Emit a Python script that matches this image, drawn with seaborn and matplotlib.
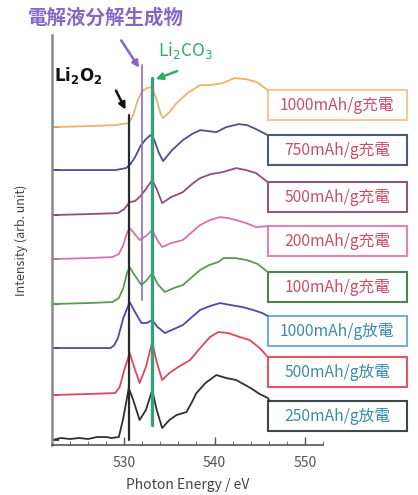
import numpy as np
import pandas as pd
import matplotlib.pyplot as plt
import seaborn as sns
from matplotlib.patches import Rectangle

sns.set_style("ticks")
plt.rcParams['font.family'] = ['Noto Sans CJK JP', 'DejaVu Sans']

# sample names (top to bottom) and their colours
samples = ["1000mAh/g充電", "750mAh/g充電", "500mAh/g充電", "200mAh/g充電",
           "100mAh/g充電", "1000mAh/g放電", "500mAh/g放電", "250mAh/g放電"]
line_colors = ["#eab46a", "#4f4f8f", "#8e4f80", "#d673ad",
               "#5b9a52", "#4a4aa8", "#e0475a", "#303030"]
box_colors = ["#f2c9a4", "#4d5a78", "#8a5a7c", "#e283b4",
              "#4f8152", "#79acd8", "#e25565", "#3e4848"]
text_colors = ["#c84e68", "#c84e68", "#c84e68", "#c84e68",
               "#c84e68", "#3c8ca8", "#3c8ca8", "#3c8ca8"]

# vertical offset of each spectrum (arb. unit)
offsets = [318, 275, 230, 186, 141, 97, 50, 5]

# spectra: photon energy (eV) and intensity above baseline
e_1000c = [522, 526, 529, 530.5, 531.0, 531.5, 532.0, 532.5, 533.0, 533.5, 534.0, 534.3,
           535.0, 535.8, 537.0, 538.4, 539.5, 540.9, 542.2, 543.5, 544.7, 545.9]
i_1000c = [0, 1, 2, 4, 12, 27, 36, 39, 40, 30, 14, 9,
           15, 24, 34, 42, 42, 44, 49, 48, 45, 37]
e_750c = [522, 529, 530.2, 530.7, 531.2, 531.8, 532.4, 532.9, 533.3, 533.8, 534.3,
          535.3, 536.5, 537.5, 538.4, 539.3, 540.2, 541.3, 542.7, 543.6, 544.6, 545.9]
i_750c = [0, 0, 2, 6, 13, 24, 31, 35, 31, 18, 9,
          20, 30, 36, 40, 39, 38, 43, 46, 45, 41, 35]
e_500c = [522, 526, 529.3, 530.0, 530.6, 531.2, 531.8, 532.4, 533.1, 533.6, 534.2,
          535.2, 536.5, 537.5, 538.4, 539.6, 540.9, 542.4, 543.5, 544.6, 545.9]
i_500c = [0, 1, 2, 6, 13, 14, 19, 26, 35, 26, 12,
          18, 23, 31, 37, 41, 43, 47, 45, 42, 33]
e_200c = [522, 526, 528.7, 529.4, 529.9, 530.3, 530.6, 531.0, 531.7, 532.4, 533.1, 533.6,
          534.2, 535.2, 536.5, 537.5, 538.4, 539.5, 540.6, 541.5, 542.4, 543.5, 544.6, 545.9]
i_200c = [0, 1, 2, 5, 14, 26, 31, 27, 19, 23, 29, 20,
          12, 16, 19, 27, 34, 39, 42, 41, 39, 36, 32, 33]
e_100c = [522, 526, 528.7, 529.4, 529.9, 530.3, 530.6, 531.0, 531.9, 532.5, 533.1, 533.7,
          534.5, 535.5, 536.5, 537.5, 538.4, 539.4, 540.4, 541.0, 542.3, 543.6, 544.8, 545.9]
i_100c = [0, 1, 2, 6, 16, 31, 37, 31, 19, 24, 31, 20,
          12, 16, 19, 27, 34, 39, 42, 46, 46, 44, 40, 32]
e_1000d = [522, 528.5, 528.9, 529.3, 529.9, 530.6, 531.2, 531.9, 532.5, 533.1, 533.7,
           534.5, 535.5, 536.5, 537.5, 538.4, 539.5, 540.6, 541.8, 543.1, 544.3, 545.3, 545.9]
i_1000d = [0, 0, 3, 10, 30, 46, 36, 25, 25, 28, 21,
           15, 19, 23, 31, 38, 42, 45, 43, 41, 38, 35, 32]
e_500d = [522, 526, 529.0, 529.5, 530.0, 530.6, 531.1, 531.7, 532.4, 533.1, 533.6, 534.2,
          535.0, 535.8, 537.3, 538.5, 539.5, 540.4, 541.5, 542.8, 543.9, 545.0, 545.9]
i_500d = [0, 1, 2, 8, 25, 42, 28, 12, 28, 53, 33, 15,
          22, 27, 35, 48, 58, 63, 62, 58, 55, 47, 38]
e_250d = [522, 523, 524, 525, 526, 527, 528, 528.6, 529.4, 529.9, 530.5, 531.0, 531.7,
          532.4, 533.1, 533.6, 534.2, 535.0, 535.8, 536.9, 537.5, 538.0, 539.0, 540.2,
          541.3, 542.4, 544.0, 545.0, 545.9, 546.1]
i_250d = [0, 2, 1, 2, 1, 3, 3, 2, 3, 22, 52, 40, 20,
          30, 50, 30, 12, 20, 25, 28, 38, 47, 57, 65,
          62, 60, 52, 46, 42, 39]

energies = [e_1000c, e_750c, e_500c, e_200c, e_100c, e_1000d, e_500d, e_250d]
heights = [i_1000c, i_750c, i_500c, i_200c, i_100c, i_1000d, i_500d, i_250d]

rows = []
for name, off, ev, h in zip(samples, offsets, energies, heights):
    for x, y in zip(ev, h):
        rows.append({"energy": x, "intensity": off + y, "sample": name})
df = pd.DataFrame(rows)

fig = plt.figure(figsize=(4.18, 4.95), dpi=100)
ax = fig.add_axes([0.1244, 0.101, 0.648, 0.828])

sns.lineplot(data=df, x="energy", y="intensity", hue="sample", hue_order=samples,
             palette=dict(zip(samples, line_colors)), sort=False, estimator=None,
             linewidth=1.3, legend=False, ax=ax)

# reference lines
ax.plot([530.5, 530.5], [5, 330], color="#2a2a2a", lw=1.6)
ax.plot([532.0, 532.0], [145, 380], color="#8b6cc6", lw=1.2)
ax.plot([533.1, 533.1], [20, 367], color="#36a07c", lw=2.4)

# label boxes
box_left, box_w, box_h = 545.9, 15.4, 30
for name, off, h, bc, tc in zip(samples, offsets, heights, box_colors, text_colors):
    top = off + h[-1]
    ax.add_patch(Rectangle((box_left, top - box_h), box_w, box_h, fill=False,
                           edgecolor=bc, lw=1.5, clip_on=False))
    ax.text(box_left + box_w / 2, top - box_h / 2, name, ha="center", va="center",
            fontsize=11.3, color=tc, clip_on=False)

# annotations
ax.text(528.0, 427, "電解液分解生成物", ha="center", va="center", fontsize=14,
        fontweight="bold", color="#8468c4", clip_on=False)
ax.annotate("", xy=(531.83, 375), xytext=(529.5, 407),
            arrowprops=dict(arrowstyle="-|>", color="#8468c4", lw=1.8), annotation_clip=False)
ax.text(524.9, 370, r"$\mathbf{Li_2O_2}$", ha="center", va="center", fontsize=12,
        color="#111111")
ax.annotate("", xy=(530.28, 333), xytext=(528.95, 357),
            arrowprops=dict(arrowstyle="-|>", color="#111111", lw=1.8))
ax.text(536.8, 395, r"Li$_2$CO$_3$", ha="center", va="center", fontsize=12.5,
        color="#2fae62")
ax.annotate("", xy=(533.2, 365), xytext=(536.15, 375),
            arrowprops=dict(arrowstyle="-|>", color="#2fae62", lw=1.8))

ax.set_xlim(522, 552)
ax.set_ylim(0, 410)
ax.set_xticks([530, 540, 550])
ax.set_xticks(np.arange(522, 553, 2), minor=True)
ax.tick_params(axis="x", direction="in", length=6, width=1, colors="#555555",
               labelsize=10, pad=8)
ax.tick_params(axis="x", which="minor", direction="in", length=3, color="#555555")
ax.set_yticks(sorted(offsets))
ax.set_yticklabels([])
ax.tick_params(axis="y", direction="in", length=5, width=1.2)
for tick, c in zip(ax.yaxis.get_major_ticks(), line_colors[::-1]):
    tick.tick1line.set_color(c)

ax.set_xlabel("Photon Energy / eV", fontsize=10, color="#444444", labelpad=6)
ax.set_ylabel("Intensity (arb. unit)", fontsize=9, color="#444444", labelpad=14)

sns.despine(ax=ax)
ax.spines["left"].set_color("#888888")
ax.spines["left"].set_linewidth(1.8)
ax.spines["bottom"].set_color("#555555")
ax.spines["bottom"].set_linewidth(1.2)

fig.savefig("out.png", dpi=100)
